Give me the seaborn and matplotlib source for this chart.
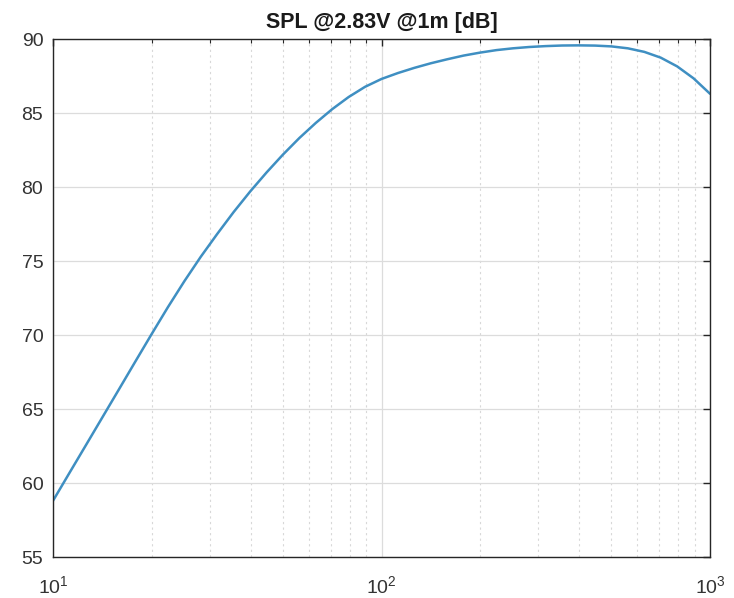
import matplotlib
matplotlib.use("Agg")
import matplotlib.pyplot as plt
import seaborn as sns
import pandas as pd
from matplotlib.ticker import LogLocator, FixedLocator, NullFormatter

freq_hz = [10.0, 11.22, 12.59, 14.13, 15.85, 17.78, 19.95, 22.39, 25.12, 28.18, 31.62,
           35.48, 39.81, 44.67, 50.12, 56.23, 63.10, 70.79, 79.43, 89.13, 100.0, 112.2,
           125.9, 141.3, 158.5, 177.8, 199.5, 223.9, 251.2, 281.8, 316.2, 354.8, 398.1,
           446.7, 501.2, 562.3, 631.0, 707.9, 794.3, 891.3, 1000.0]
spl_db = [58.8, 60.68, 62.55, 64.43, 66.30, 68.18, 70.05, 71.89, 73.64, 75.29, 76.83,
          78.31, 79.69, 80.98, 82.19, 83.31, 84.33, 85.26, 86.08, 86.77, 87.3, 87.7,
          88.05, 88.36, 88.63, 88.88, 89.08, 89.25, 89.37, 89.46, 89.52, 89.56, 89.57,
          89.555, 89.5, 89.37, 89.13, 88.74, 88.15, 87.34, 86.3]
y_ticks = [55, 60, 65, 70, 75, 80, 85, 90]
x_ticks = [10, 100, 1000]
x_tick_labels = [r"$10^1$", r"$10^2$", r"$10^3$"]
title = "SPL @2.83V @1m [dB]"

sns.set_theme(style="white")
plt.rcParams["font.family"] = ["Liberation Sans", "DejaVu Sans"]
plt.rcParams["mathtext.fontset"] = "custom"
plt.rcParams["mathtext.rm"] = "Liberation Sans"
plt.rcParams["mathtext.it"] = "Liberation Sans"

df = pd.DataFrame({"f": freq_hz, "spl": spl_db})

fig = plt.figure(figsize=(7.34, 5.98), dpi=100)
ax = fig.add_axes([53 / 734, 41 / 598, 657 / 734, 518 / 598])
sns.lineplot(data=df, x="f", y="spl", ax=ax, color="#3f8fc2", linewidth=1.8)
ax.set_xscale("log")
ax.set_xlim(10, 1000)
ax.set_ylim(55, 90)
ax.set_yticks(y_ticks)
ax.xaxis.set_major_locator(FixedLocator(x_ticks))
ax.set_xticklabels(x_tick_labels)
ax.xaxis.set_minor_locator(LogLocator(base=10, subs=range(2, 10)))
ax.xaxis.set_minor_formatter(NullFormatter())
ax.set_xlabel("")
ax.set_ylabel("")

ax.grid(which="major", color="#dcdcdc", linestyle="-", linewidth=0.9)
ax.grid(which="minor", axis="x", color="#d8d8d8", linestyle=(0, (2, 3)), linewidth=0.8)
ax.set_axisbelow(True)

for s in ax.spines.values():
    s.set_visible(True)
    s.set_color("#262626")
    s.set_linewidth(1.0)

ax.tick_params(which="both", direction="in", top=True, right=True, color="#262626",
               labelcolor="#333333", labelsize=14)
ax.tick_params(which="major", length=5, width=1)
ax.tick_params(which="minor", length=3, width=0.8)
ax.tick_params(axis="y", pad=7)
ax.tick_params(axis="x", pad=13)

ax.set_title(title, fontsize=15.5, fontweight="bold", color="#1a1a1a", pad=8)

fig.savefig("out.png", dpi=100)
